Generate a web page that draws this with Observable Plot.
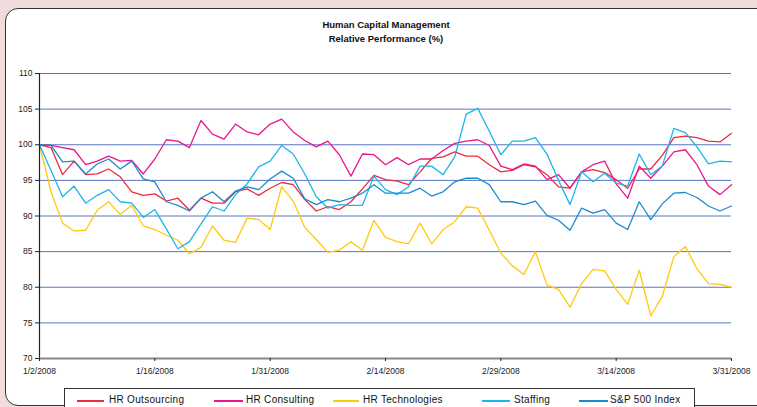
<!DOCTYPE html>
<html>
<head>
<meta charset="utf-8">
<script src="https://cdn.jsdelivr.net/npm/d3@7"></script>
<script src="https://cdn.jsdelivr.net/npm/@observablehq/plot@0.6"></script>
<style>
  html, body { margin: 0; padding: 0; }
  body { width: 757px; height: 407px; background: #F0DCDC; overflow: hidden; position: relative; font-family: "Liberation Sans", Arial, sans-serif; }
  #frame { position: absolute; left: 5px; top: 8px; width: 800px; height: 396px; background: #fff; border: 1.5px solid #333; border-radius: 13px; }
  #title { position: absolute; left: 0; top: 18px; width: 772px; text-align: center; font-weight: bold; font-size: 9.5px; line-height: 14px; color: #111; }
  #chart { position: absolute; left: 0; top: 0; }
  #legend { position: absolute; left: 64px; top: 388px; width: 629px; height: 30px; border: 1px solid #333; background: #fff; }
  .sw { position: absolute; top: 11px; height: 1.5px; }
  .lt { position: absolute; top: 5px; font-size: 10px; color: #111; letter-spacing: 0.3px; white-space: nowrap; }
</style>
</head>
<body>
<div id="frame"></div>
<div id="title">Human Capital Management<br>Relative Performance (%)</div>
<div id="chart"></div>
<div id="legend"></div>
<script>
const dates = [
  "1/2/2008","1/3/2008","1/4/2008","1/7/2008","1/8/2008","1/9/2008","1/10/2008","1/11/2008","1/14/2008","1/15/2008",
  "1/16/2008","1/17/2008","1/18/2008","1/22/2008","1/23/2008","1/24/2008","1/25/2008","1/28/2008","1/29/2008","1/30/2008",
  "1/31/2008","2/1/2008","2/4/2008","2/5/2008","2/6/2008","2/7/2008","2/8/2008","2/11/2008","2/12/2008","2/13/2008",
  "2/14/2008","2/15/2008","2/19/2008","2/20/2008","2/21/2008","2/22/2008","2/25/2008","2/26/2008","2/27/2008","2/28/2008",
  "2/29/2008","3/3/2008","3/4/2008","3/5/2008","3/6/2008","3/7/2008","3/10/2008","3/11/2008","3/12/2008","3/13/2008",
  "3/14/2008","3/17/2008","3/18/2008","3/19/2008","3/20/2008","3/24/2008","3/25/2008","3/26/2008","3/27/2008","3/28/2008",
  "3/31/2008"
];
const seriesNames = ["HR Outsourcing", "HR Consulting", "HR Technologies", "Staffing", "S&P 500 Index"];
const hrOutsourcing = [
  100,99.6,95.8,97.7,95.8,95.9,96.6,95.5,93.4,92.9,
  93.1,92.1,92.5,90.8,92.5,91.8,91.8,93.4,93.8,92.9,
  93.9,94.7,94.4,92.3,90.7,91.3,90.9,92.0,93.8,95.7,
  95.1,94.9,94.4,96.2,98.1,98.3,99.0,98.4,98.4,97.2,
  96.2,96.4,97.2,96.9,95.8,94.1,93.9,96.2,96.5,96.1,
  95.1,93.9,96.6,96.6,98.5,101.0,101.2,101.0,100.5,100.4,
  101.6
];
const hrConsulting = [
  100,99.9,99.6,99.3,97.2,97.7,98.4,97.7,97.8,95.9,
  98.0,100.7,100.5,99.6,103.4,101.5,100.8,102.9,101.8,101.4,
  102.9,103.6,101.8,100.6,99.7,100.5,98.6,95.6,98.7,98.6,
  97.2,98.2,97.2,98.0,98.0,99.2,100.2,100.5,100.7,99.9,
  97.0,96.5,97.3,97.0,95.1,95.8,93.9,96.2,97.2,97.7,
  94.5,92.5,97.0,95.3,97.0,99.0,99.3,97.2,94.2,93.0,
  94.4
];
const hrTechnologies = [
  100,93.4,89.0,87.9,88.0,90.8,92.0,90.2,91.5,88.6,
  88.1,87.3,86.6,84.7,85.6,88.6,86.6,86.3,89.7,89.5,
  88.1,94.1,92.1,88.4,86.7,84.9,85.2,86.4,85.2,89.4,
  87.0,86.4,86.1,89.0,86.1,88.1,89.2,91.3,91.1,88.0,
  84.8,83.0,81.8,85.0,80.3,79.7,77.2,80.5,82.5,82.3,
  79.7,77.6,82.4,76.0,78.7,84.3,85.7,82.6,80.5,80.4,
  80.0
];
const staffing = [
  100,96.4,92.7,94.2,91.8,92.9,93.7,92.0,91.8,89.8,
  90.9,88.2,85.4,86.4,88.9,91.3,90.7,93.0,94.5,96.9,
  97.7,99.9,98.7,95.9,92.7,91.1,91.6,91.5,91.5,95.6,
  93.7,93.0,94.1,97.0,97.0,95.8,98.3,104.3,105.1,101.9,
  98.6,100.5,100.5,101.0,98.7,95.0,91.6,96.2,94.8,96.0,
  94.6,94.2,98.7,95.8,97.0,102.3,101.7,99.7,97.3,97.7,
  97.6
];
const sp500 = [
  100,99.9,97.6,97.7,95.9,97.3,98.0,96.6,97.7,95.2,
  94.8,92.0,91.5,90.7,92.5,93.4,92.0,93.5,94.1,93.7,
  95.2,96.3,95.3,92.4,91.6,92.3,92.0,92.5,93.2,94.4,
  93.2,93.2,93.2,93.9,92.8,93.4,94.8,95.3,95.3,94.4,
  92.0,92.0,91.6,92.1,90.1,89.4,88.0,91.1,90.4,90.9,
  89.0,88.1,92.0,89.5,91.7,93.2,93.3,92.6,91.4,90.7,
  91.4
];
const seriesColors = ["#EE2B3B", "#E8188C", "#FFC90E", "#1DB4EC", "#1D8BD0"];
const yTicks = [70, 75, 80, 85, 90, 95, 100, 105, 110];
const xTickIndex = [0, 10, 20, 30, 40, 50, 60];

const allValues = [hrOutsourcing, hrConsulting, hrTechnologies, staffing, sp500];
const rows = seriesNames.flatMap((s, k) =>
  allValues[k].map((v, i) => ({ series: s, i, date: dates[i], value: v }))
);

const chart = Plot.plot({
  width: 757,
  height: 392,
  marginTop: 73,
  marginBottom: 34,
  marginLeft: 39,
  marginRight: 26,
  style: { background: "transparent", fontFamily: "'Liberation Sans', Arial, sans-serif", fontSize: "8.5px", color: "#222" },
  x: { type: "linear", domain: [0, 60] },
  y: { domain: [70, 110] },
  color: { domain: seriesNames, range: seriesColors },
  marks: [
    Plot.ruleY(yTicks.filter(d => d > 70), { stroke: "#5A74C4", strokeWidth: 1 }),
    Plot.line(rows, { x: "i", y: "value", z: "series", stroke: "series", strokeWidth: 1.3 }),
    Plot.ruleX([0], { stroke: "#222", strokeWidth: 1.2 }),
    Plot.ruleY([70], { stroke: "#888", strokeWidth: 1.8 }),
    Plot.axisY({ ticks: yTicks, tickSize: 4, tickPadding: 3, tickFormat: d => d, label: null }),
    Plot.axisX({ ticks: xTickIndex, tickSize: 3, tickPadding: 6, tickFormat: i => dates[i], label: null })
  ]
});
document.getElementById("chart").appendChild(chart);

// legend
const legendPos = [
  { sw: [12, 39], tx: 44 },
  { sw: [149, 178], tx: 181 },
  { sw: [268, 294], tx: 298 },
  { sw: [417, 445], tx: 449 },
  { sw: [514, 543], tx: 545 }
];
const legend = document.getElementById("legend");
seriesNames.forEach((s, k) => {
  const p = legendPos[k];
  const sw = document.createElement("div");
  sw.className = "sw";
  sw.style.left = p.sw[0] + "px";
  sw.style.width = (p.sw[1] - p.sw[0]) + "px";
  sw.style.background = seriesColors[k];
  legend.appendChild(sw);
  const t = document.createElement("div");
  t.className = "lt";
  t.style.left = p.tx + "px";
  t.textContent = s;
  legend.appendChild(t);
});
</script>
</body>
</html>
